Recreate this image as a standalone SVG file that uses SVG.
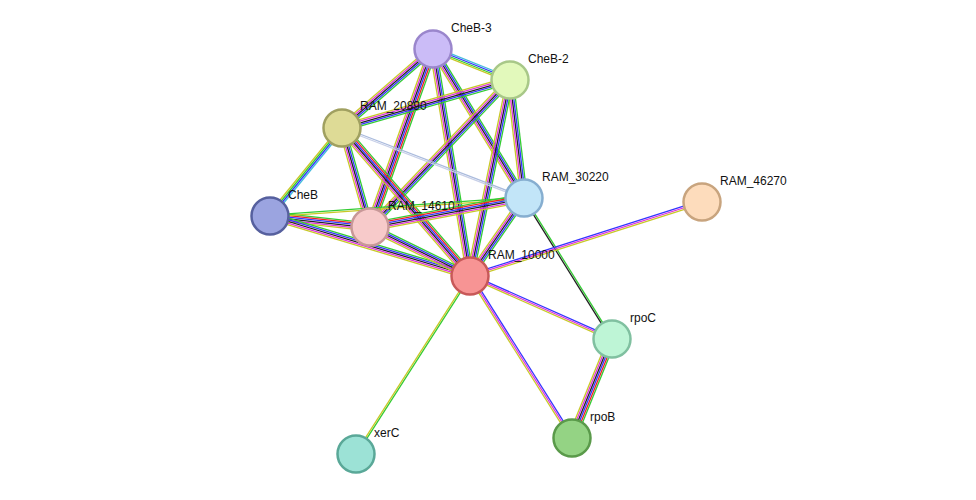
<svg xmlns="http://www.w3.org/2000/svg" xmlns:xlink="http://www.w3.org/1999/xlink" width="976" height="500" viewBox="0 0 976 500">
<style>
line{vector-effect:non-scaling-stroke;stroke-width:1.3}
.g{stroke:#33cc33}.r{stroke:#ee2222}.b{stroke:#3333ff}.k{stroke:#222}.m{stroke:#dd33dd}.y{stroke:#c8c828}.c{stroke:#44bbdd}
.n{stroke-width:2.5}
text{font-family:"Liberation Sans",Arial,sans-serif;font-size:12px;fill:#111}
</style>
<defs>
<g id="e2"><line class="g" x1="0" y1="-0.8" x2="1" y2="-0.8"/><line class="y" x1="0" y1="0.8" x2="1" y2="0.8"/></g>
<g id="e3"><line class="b" x1="0" y1="-1.6" x2="1" y2="-1.6"/><line class="m" x1="0" y1="0" x2="1" y2="0"/><line class="y" x1="0" y1="1.6" x2="1" y2="1.6"/></g>
<g id="e4"><line class="c" x1="0" y1="-2.4" x2="1" y2="-2.4"/><line class="b" x1="0" y1="-0.8" x2="1" y2="-0.8"/><line class="g" x1="0" y1="0.8" x2="1" y2="0.8"/><line class="y" x1="0" y1="2.4" x2="1" y2="2.4"/></g>
<g id="e5"><line class="g" x1="0" y1="-3.2" x2="1" y2="-3.2"/><line class="b" x1="0" y1="-1.6" x2="1" y2="-1.6"/><line class="k" x1="0" y1="0" x2="1" y2="0"/><line class="m" x1="0" y1="1.6" x2="1" y2="1.6"/><line class="y" x1="0" y1="3.2" x2="1" y2="3.2"/></g>
<g id="e6"><line class="g" x1="0" y1="-4" x2="1" y2="-4"/><line class="r" x1="0" y1="-2.4" x2="1" y2="-2.4"/><line class="b" x1="0" y1="-0.8" x2="1" y2="-0.8"/><line class="k" x1="0" y1="0.8" x2="1" y2="0.8"/><line class="m" x1="0" y1="2.4" x2="1" y2="2.4"/><line class="y" x1="0" y1="4" x2="1" y2="4"/></g>
<g id="gk"><line class="g" x1="0" y1="-0.8" x2="1" y2="-0.8"/><line class="k" x1="0" y1="0.8" x2="1" y2="0.8"/></g>
<g id="lb"><line stroke="#aabbdd" x1="0" y1="-0.8" x2="1" y2="-0.8"/><line stroke="#c8d0e8" x1="0" y1="0.8" x2="1" y2="0.8"/></g>
</defs>
<rect width="976" height="500" fill="#fff"/>
<g id="connectors">
<use xlink:href="#e4" transform="matrix(77 31 -0.373 0.928 433 49)"/>
<use xlink:href="#e5" transform="matrix(-91 79 -0.656 -0.755 433 49)"/>
<use xlink:href="#e5" transform="matrix(91 149 -0.853 0.521 433 49)"/>
<use xlink:href="#e6" transform="matrix(-63 178 -0.943 -0.334 433 49)"/>
<use xlink:href="#e5" transform="matrix(37 227 -0.987 0.161 433 49)"/>
<use xlink:href="#e5" transform="matrix(-168 48 -0.275 -0.962 510 80)"/>
<use xlink:href="#e5" transform="matrix(14 118 -0.993 0.118 510 80)"/>
<use xlink:href="#e5" transform="matrix(-140 147 -0.724 -0.690 510 80)"/>
<use xlink:href="#e5" transform="matrix(-40 196 -0.98 -0.2 510 80)"/>
<use xlink:href="#lb" transform="matrix(182 70 -0.359 0.933 342 128)"/>
<use xlink:href="#e4" transform="matrix(-72 88 -0.774 -0.633 342 128)"/>
<use xlink:href="#e5" transform="matrix(28 99 -0.962 0.272 342 128)"/>
<use xlink:href="#e6" transform="matrix(128 148 -0.756 0.654 342 128)"/>
<use xlink:href="#e6" transform="matrix(100 11 -0.109 0.994 270 216)"/>
<use xlink:href="#e5" transform="matrix(200 60 -0.287 0.958 270 216)"/>
<use xlink:href="#e2" transform="matrix(254 -18 0.071 0.998 270 216)"/>
<use xlink:href="#e6" transform="matrix(154 -29 0.185 0.983 370 227)"/>
<use xlink:href="#e5" transform="matrix(100 49 -0.44 0.898 370 227)"/>
<use xlink:href="#e5" transform="matrix(-54 78 -0.822 -0.569 524 198)"/>
<use xlink:href="#gk" transform="matrix(88 141 -0.848 0.529 524 198)"/>
<use xlink:href="#e3" transform="matrix(232 -74 0.304 0.953 470 276)"/>
<use xlink:href="#e3" transform="matrix(142 63 -0.406 0.914 470 276)"/>
<use xlink:href="#e3" transform="matrix(102 162 -0.846 0.533 470 276)"/>
<use xlink:href="#e2" transform="matrix(-114 178 -0.842 -0.539 470 276)"/>
<use xlink:href="#e6" transform="matrix(-40 99 -0.927 -0.375 612 339)"/>
</g>
<g id="CheB-3"><circle class="n" cx="433" cy="49" r="18.5" fill="#cbbcf7" stroke="#9a86cc"/><text x="451" y="32">CheB-3</text></g>
<g id="CheB-2"><circle class="n" cx="510" cy="80" r="18.5" fill="#e2f9bb" stroke="#a8c888"/><text x="528" y="63">CheB-2</text></g>
<g id="RAM_20890"><circle class="n" cx="342" cy="128" r="18.5" fill="#dedb96" stroke="#a0a060"/><text x="360" y="110">RAM_20890</text></g>
<g id="CheB"><circle class="n" cx="270" cy="216" r="18.5" fill="#9ba4e0" stroke="#56609e"/><text x="288" y="199">CheB</text></g>
<g id="RAM_14610"><circle class="n" cx="370" cy="227" r="18.5" fill="#f7caca" stroke="#c89898"/><text x="388" y="210">RAM_14610</text></g>
<g id="RAM_30220"><circle class="n" cx="524" cy="198" r="18.5" fill="#c2e5f8" stroke="#86aed0"/><text x="542" y="181">RAM_30220</text></g>
<g id="RAM_46270"><circle class="n" cx="702" cy="202" r="18.5" fill="#fddcbc" stroke="#c8a47e"/><text x="720" y="185">RAM_46270</text></g>
<g id="RAM_10000"><circle class="n" cx="470" cy="276" r="18.5" fill="#f79494" stroke="#c85858"/><text x="488" y="259">RAM_10000</text></g>
<g id="rpoC"><circle class="n" cx="612" cy="339" r="18.5" fill="#bef5d6" stroke="#80c0a0"/><text x="630" y="322">rpoC</text></g>
<g id="rpoB"><circle class="n" cx="572" cy="438" r="18.5" fill="#94d384" stroke="#5a9a4a"/><text x="590" y="421">rpoB</text></g>
<g id="xerC"><circle class="n" cx="356" cy="454" r="18.5" fill="#9ce2d6" stroke="#5aa898"/><text x="374" y="437">xerC</text></g>
</svg>
